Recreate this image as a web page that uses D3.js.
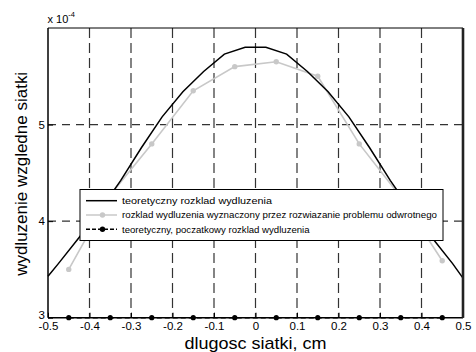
<!DOCTYPE html>
<html>
<head>
<meta charset="utf-8">
<script src="https://cdn.jsdelivr.net/npm/d3@7"></script>
<style>
  body { margin: 0; background: #fff; }
  text { font-family: 'Liberation Sans', Arial, sans-serif; }
</style>
</head>
<body>
<div id="chart"></div>
<script>
// theoretical elongation (x 1e-4) along the mesh length
const xTheory = [-0.5, -0.475, -0.425, -0.375, -0.325, -0.275, -0.225, -0.175, -0.125, -0.075, -0.025,
                 0.025, 0.075, 0.125, 0.175, 0.225, 0.275, 0.325, 0.375, 0.425, 0.475, 0.5]
const yTheory = [3.43, 3.56, 3.83, 4.11, 4.42, 4.76, 5.08, 5.34, 5.55, 5.73, 5.80,
                 5.80, 5.73, 5.55, 5.34, 5.08, 4.76, 4.42, 4.11, 3.83, 3.56, 3.41]
// elongation from the inverse problem
const xInverse = [-0.45, -0.35, -0.25, -0.15, -0.05, 0.05, 0.15, 0.25, 0.35, 0.45]
const yInverse = [3.50, 4.27, 4.80, 5.35, 5.60, 5.65, 5.50, 4.80, 4.25, 3.59]
// initial elongation
const xInitial = [-0.45, -0.35, -0.25, -0.15, -0.05, 0.05, 0.15, 0.25, 0.35, 0.45]
const yInitial = [3, 3, 3, 3, 3, 3, 3, 3, 3, 3]

const xTicks = [-0.5, -0.4, -0.3, -0.2, -0.1, 0, 0.1, 0.2, 0.3, 0.4, 0.5]
const yTicks = [3, 4, 5]
const xGrid = [-0.4, -0.3, -0.2, -0.1, 0, 0.1, 0.2, 0.3, 0.4]
const yGrid = [4, 5]

const legendLabels = [
  'teoretyczny rozklad wydluzenia',
  'rozklad wydluzenia wyznaczony przez rozwiazanie problemu odwrotnego',
  'teoretyczny, poczatkowy rozklad wydluzenia'
]

const width = 476
const height = 352
const margin = {top: 28, right: 13, bottom: 34.3, left: 48}
const innerWidth = width - margin.left - margin.right
const innerHeight = height - margin.top - margin.bottom

const svg = d3.select('#chart').append('svg')
  .attr('width', width)
  .attr('height', height)

const xScale = d3.scaleLinear().domain([-0.5, 0.5]).range([0, innerWidth])
const yScale = d3.scaleLinear().domain([3, 6]).range([innerHeight, 0])

const g = svg.append('g')
  .attr('transform', `translate(${margin.left},${margin.top})`)

// dashed grid
g.selectAll('.vgrid').data(xGrid).join('line')
  .attr('x1', d => xScale(d)).attr('x2', d => xScale(d))
  .attr('y1', 0).attr('y2', innerHeight)
  .attr('stroke', '#333').attr('stroke-width', 1.2)
  .attr('stroke-dasharray', '10,5')
g.selectAll('.hgrid').data(yGrid).join('line')
  .attr('y1', d => yScale(d)).attr('y2', d => yScale(d))
  .attr('x1', 0).attr('x2', innerWidth)
  .attr('stroke', '#333').attr('stroke-width', 1.2)
  .attr('stroke-dasharray', '8,6')

const line = d3.line().x(d => xScale(d[0])).y(d => yScale(d[1]))
const theory = d3.zip(xTheory, yTheory)
const inverse = d3.zip(xInverse, yInverse)
const initial = d3.zip(xInitial, yInitial)

// inverse problem series (light gray with dots)
g.append('path').datum(inverse)
  .attr('d', line).attr('fill', 'none')
  .attr('stroke', '#c8c8c8').attr('stroke-width', 1.6)
g.selectAll('.inv').data(inverse).join('circle')
  .attr('cx', d => xScale(d[0])).attr('cy', d => yScale(d[1]))
  .attr('r', 2.7).attr('fill', '#c8c8c8')

// theoretical series
g.append('path').datum(theory)
  .attr('d', line).attr('fill', 'none')
  .attr('stroke', '#000').attr('stroke-width', 1.5)

// initial series along the bottom
g.append('path').datum(initial)
  .attr('d', line).attr('fill', 'none')
  .attr('stroke', '#000').attr('stroke-width', 1.5)
  .attr('stroke-dasharray', '5,3')
g.selectAll('.ini').data(initial).join('circle')
  .attr('cx', d => xScale(d[0])).attr('cy', d => yScale(d[1]))
  .attr('r', 2.6).attr('fill', '#000')

// axes, ticks pointing inside
const xAxis = d3.axisBottom(xScale).tickValues(xTicks)
  .tickSizeInner(-5).tickSizeOuter(0).tickPadding(4)
  .tickFormat(d => d3.format('.1f')(d).replace('−', '-').replace('0.0', '0'))
const yAxis = d3.axisLeft(yScale).tickValues(yTicks)
  .tickSizeInner(-5).tickSizeOuter(0).tickPadding(3)
  .tickFormat(d3.format('d'))

const styleAxis = sel => {
  sel.attr('font-size', 11.5)
    .attr('font-family', "'Liberation Sans', Arial, sans-serif")
  sel.select('.domain').remove()
  sel.selectAll('line').attr('stroke', '#000')
  sel.selectAll('text').attr('fill', '#000')
}
g.append('g').attr('transform', `translate(0,${innerHeight})`).call(xAxis).call(styleAxis)
g.append('g').call(yAxis).call(styleAxis)
  .selectAll('text').attr('dy', d => d === 3 ? '0.1em' : '0.32em')

// box around the axes
g.append('line').attr('x1', 0).attr('x2', innerWidth).attr('y1', 0).attr('y2', 0)
  .attr('stroke', '#000').attr('stroke-width', 1)
g.append('line').attr('x1', 0).attr('x2', innerWidth).attr('y1', innerHeight).attr('y2', innerHeight)
  .attr('stroke', '#000').attr('stroke-width', 1.5)
g.append('line').attr('x1', 0).attr('x2', 0).attr('y1', 0).attr('y2', innerHeight)
  .attr('stroke', '#000').attr('stroke-width', 1.5)
g.append('line').attr('x1', innerWidth).attr('x2', innerWidth).attr('y1', 0).attr('y2', innerHeight)
  .attr('stroke', '#222').attr('stroke-width', 2.6)

// exponent label
const expo = svg.append('text').attr('x', 47.5).attr('y', 22.7)
  .style('font-size', '11px')
expo.append('tspan').text('x 10')
expo.append('tspan').attr('dy', -6).style('font-size', '7.5px').text('-4')

// axis titles
svg.append('text')
  .attr('x', margin.left + innerWidth / 2).attr('y', 349)
  .attr('text-anchor', 'middle').style('font-size', '17px')
  .attr('textLength', 142).attr('lengthAdjust', 'spacingAndGlyphs')
  .text('dlugosc siatki, cm')
svg.append('text')
  .attr('transform', `translate(27,${margin.top + innerHeight / 2 + 1}) rotate(-90)`)
  .attr('text-anchor', 'middle').style('font-size', '17px')
  .attr('textLength', 204).attr('lengthAdjust', 'spacingAndGlyphs')
  .text('wydluzenie wzgledne siatki')

// legend
const legend = svg.append('g')
legend.append('rect')
  .attr('x', 80).attr('y', 189.5).attr('width', 363).attr('height', 51)
  .attr('fill', '#fff').attr('stroke', '#000').attr('stroke-width', 1)
const rowY = [200.7, 215, 229.3]
const textWidths = [150, 315, 187.6]
const rows = legend.selectAll('.row').data(legendLabels).join('g')
  .attr('transform', (d, i) => `translate(0,${rowY[i]})`)
rows.append('line')
  .attr('x1', 86).attr('x2', 117).attr('y1', 0).attr('y2', 0)
  .attr('stroke', (d, i) => i === 1 ? '#c8c8c8' : '#000')
  .attr('stroke-width', 1.5)
  .attr('stroke-dasharray', (d, i) => i === 2 ? '4,2' : null)
rows.filter((d, i) => i > 0).append('circle')
  .attr('cx', 102.5).attr('cy', 0).attr('r', 2.7)
  .attr('fill', (d, i) => i === 0 ? '#c8c8c8' : '#000')
rows.append('text')
  .attr('x', 122).attr('y', 3.2)
  .attr('textLength', (d, i) => textWidths[i])
  .attr('lengthAdjust', 'spacingAndGlyphs')
  .style('font-size', '9px')
  .text(d => d)
</script>
</body>
</html>
